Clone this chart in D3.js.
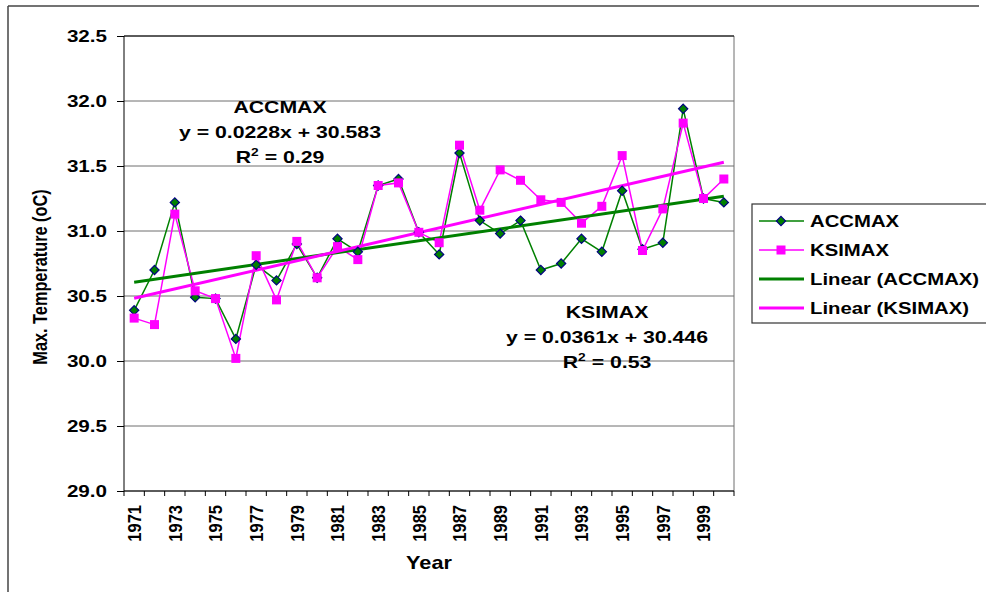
<!DOCTYPE html>
<meta charset="utf-8">
<style>
body{ margin:0; background:#fff; }
text{ font-family:"Liberation Sans", Arial, sans-serif; font-weight:bold; fill:#000; }
.grid line{ stroke:#6e6e6e; stroke-width:1; }
.domain{ display:none; }
</style>
<body>
<div id="chart"></div>
<script src="https://d3js.org/d3.v7.min.js"></script>
<script>
// data
var years = d3.range(1971, 2001);
var accmax = [30.39,30.70,31.22,30.49,30.48,30.17,30.74,30.62,30.90,30.64,
              30.94,30.84,31.35,31.40,30.99,30.82,31.60,31.08,30.98,31.08,
              30.70,30.75,30.94,30.84,31.31,30.86,30.91,31.94,31.25,31.22];
var ksimax = [30.33,30.28,31.13,30.54,30.48,30.02,30.81,30.47,30.92,30.64,
              30.88,30.78,31.35,31.37,30.99,30.91,31.66,31.16,31.47,31.39,
              31.24,31.22,31.06,31.19,31.58,30.85,31.17,31.83,31.25,31.40];
var yTicks = [29.0,29.5,30.0,30.5,31.0,31.5,32.0,32.5];
var xLabels = years.filter(function(d){ return d % 2 == 1; });
// trend equations shown on the chart (x = 1..30)
var accTrend = {slope:0.0228, icpt:30.583, r2:"0.29"};
var ksiTrend = {slope:0.0361, icpt:30.446, r2:"0.53"};

var W = 986, H = 592;
var green = "#008000", navy = "#000080", pink = "#ff00ff";
var SX = 1.25; // text in the picture is stretched sideways

var svg = d3.select("#chart").append("svg").attr("width", W).attr("height", H);

var x = d3.scaleBand().domain(years).range([124, 734]);
var y = d3.scaleLinear().domain([29, 32.5]).range([491, 36]);
var cx = function(yr){ return x(yr) + x.bandwidth()/2; };

function stext(g, px, py, str, size, sx, anchor){
    return g.append("text")
        .attr("transform", "translate(" + px + "," + py + ") scale(" + sx + ",1)")
        .attr("text-anchor", anchor || "middle")
        .style("font-size", size + "px")
        .text(str);
}

// outer frame
svg.append("line").attr("x1",8).attr("x2",979).attr("y1",6).attr("y2",6)
    .attr("stroke","#444").attr("stroke-width",1.5);
svg.append("line").attr("x1",8).attr("x2",8).attr("y1",6).attr("y2",H)
    .attr("stroke","#444").attr("stroke-width",1.5);

// gridlines
svg.append("g").attr("class","grid").selectAll("line")
    .data(yTicks).enter().append("line")
    .attr("x1",124).attr("x2",734)
    .attr("y1",d=>y(d)).attr("y2",d=>y(d));
svg.append("line").attr("x1",734).attr("x2",734).attr("y1",36).attr("y2",491)
    .attr("stroke","#6e6e6e");
svg.append("line").attr("x1",124).attr("x2",734).attr("y1",36).attr("y2",36)
    .attr("stroke","#000");

// y axis
var yAxis = svg.append("g").attr("transform","translate(124,0)")
    .call(d3.axisLeft(y).tickValues(yTicks).tickFormat(d3.format(".1f")).tickSize(7));
yAxis.selectAll(".tick line").attr("stroke","#000");
yAxis.selectAll(".tick text")
    .attr("x", -17/SX).attr("dy","0.36em")
    .attr("transform","scale(" + SX + ",1)")
    .style("font-size","16.5px").attr("fill","#000");
svg.append("line").attr("x1",124).attr("x2",124).attr("y1",36).attr("y2",491)
    .attr("stroke","#000");

// x axis
var xAxis = svg.append("g").attr("transform","translate(0,491)")
    .call(d3.axisBottom(x).tickValues(xLabels).tickSize(0));
xAxis.selectAll(".tick text")
    .attr("x",0).attr("y",0).attr("dy","0.36em")
    .attr("text-anchor","end")
    .attr("transform","translate(0,14) scale(1.15,1) rotate(-90)")
    .style("font-size","16.5px").attr("fill","#000");
svg.append("line").attr("x1",124).attr("x2",734).attr("y1",491).attr("y2",491)
    .attr("stroke","#000");
svg.append("g").selectAll("line")
    .data(years.concat([2001])).enter().append("line")
    .attr("x1",d=>d==2001 ? 734 : x(d)).attr("x2",d=>d==2001 ? 734 : x(d))
    .attr("y1",491).attr("y2",496).attr("stroke","#000");

// axis titles
svg.append("text")
    .attr("transform","translate(47,277) scale(1.2,1) rotate(-90)")
    .attr("text-anchor","middle").style("font-size","16.3px")
    .text("Max. Temperature (oC)");
stext(svg, 429, 569, "Year", 17.5, 1.24);

// series lines
var line = d3.line().x((d,i)=>cx(years[i])).y(d=>y(d));
svg.append("path").datum(accmax).attr("d",line)
    .attr("fill","none").attr("stroke",green).attr("stroke-width",1.5);
svg.append("path").datum(ksimax).attr("d",line)
    .attr("fill","none").attr("stroke",pink).attr("stroke-width",1.5);

// trend lines
function trend(t){
    return [1, years.length].map(function(n){
        return [cx(years[n-1]), y(t.slope*n + t.icpt)];
    });
}
svg.append("path").datum(trend(accTrend)).attr("d",d3.line())
    .attr("fill","none").attr("stroke",green).attr("stroke-width",3);
svg.append("path").datum(trend(ksiTrend)).attr("d",d3.line())
    .attr("fill","none").attr("stroke",pink).attr("stroke-width",3);

// markers
var diamond = "M0,-4.6L4.6,0L0,4.6L-4.6,0Z";
svg.append("g").selectAll("path").data(accmax).enter().append("path")
    .attr("d",diamond)
    .attr("transform",(d,i)=>"translate(" + cx(years[i]) + "," + y(d) + ")")
    .attr("fill",green).attr("stroke",navy).attr("stroke-width",1.2);
svg.append("g").selectAll("rect").data(ksimax).enter().append("rect")
    .attr("x",(d,i)=>cx(years[i]) - 4.5).attr("y",d=>y(d) - 4.5)
    .attr("width",9).attr("height",9).attr("fill",pink);

// equation labels
function eqLabel(name, t, px, py){
    var g = svg.append("g");
    stext(g, px, py, name, 17, SX);
    stext(g, px, py + 25, "y = " + t.slope + "x + " + t.icpt, 17, SX);
    var r = stext(g, px, py + 50, "R", 17, SX);
    r.append("tspan").attr("dy",-7).style("font-size","11px").text("2");
    r.append("tspan").attr("dy",7).text(" = " + t.r2);
}
eqLabel("ACCMAX", accTrend, 280, 113);
eqLabel("KSIMAX", ksiTrend, 607, 318);

// legend
var leg = svg.append("g");
leg.append("rect").attr("x",752).attr("y",204).attr("width",260).attr("height",119)
    .attr("fill","#fff").attr("stroke","#333").attr("stroke-width",1.2);
var legItems = [
    {label:"ACCMAX", color:green, w:1.5, mark:"d"},
    {label:"KSIMAX", color:pink, w:1.5, mark:"s"},
    {label:"Linear (ACCMAX)", color:green, w:3, mark:null},
    {label:"Linear (KSIMAX)", color:pink, w:3, mark:null}
];
var legY = d3.scalePoint().domain(legItems.map(d=>d.label)).range([221, 308]);
legItems.forEach(function(d){
    var ly = legY(d.label);
    leg.append("line").attr("x1",759).attr("x2",804).attr("y1",ly).attr("y2",ly)
        .attr("stroke",d.color).attr("stroke-width",d.w);
    if(d.mark == "d"){
        leg.append("path").attr("d",diamond).attr("transform","translate(781," + ly + ")")
            .attr("fill",green).attr("stroke",navy).attr("stroke-width",1.2);
    } else if(d.mark == "s"){
        leg.append("rect").attr("x",776.5).attr("y",ly-4.5).attr("width",9).attr("height",9)
            .attr("fill",pink);
    }
    stext(leg, 810, ly + 5.5, d.label, 16, 1.27, "start");
});
</script>
</body>
</html>
